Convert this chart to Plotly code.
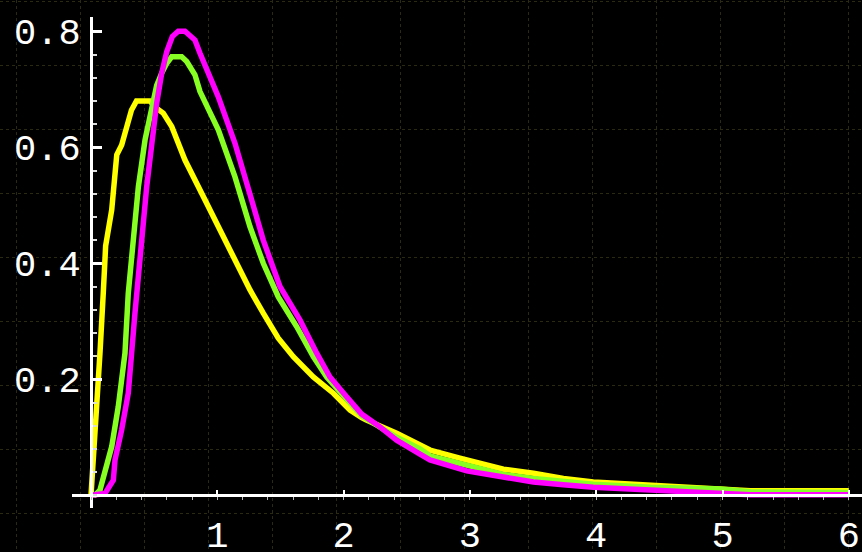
import plotly.graph_objects as go

# ---- data ----
yellow_x = [0.0, 0.045, 0.071, 0.097, 0.116, 0.164, 0.204, 0.243, 0.295, 0.32, 0.36, 0.467, 0.507, 0.572,
            0.639, 0.744, 0.903, 1.061, 1.166, 1.259, 1.364, 1.483, 1.602, 1.76, 1.919, 2.051, 2.143, 2.18,
            2.42, 2.684, 2.92, 3.265, 3.503, 3.74, 3.977, 4.48, 4.98, 5.22, 6.0]
yellow_y = [0.0, 0.135, 0.245, 0.348, 0.43, 0.492, 0.587, 0.604, 0.647, 0.664, 0.68, 0.68, 0.669, 0.659,
            0.636, 0.578, 0.509, 0.44, 0.394, 0.354, 0.314, 0.271, 0.239, 0.204, 0.176, 0.147, 0.134, 0.13,
            0.107, 0.078, 0.064, 0.045, 0.038, 0.029, 0.023, 0.017, 0.013, 0.008, 0.008]

green_x = [0.0, 0.03, 0.071, 0.124, 0.164, 0.216, 0.269, 0.295, 0.322, 0.375, 0.428, 0.48, 0.52, 0.56,
           0.6, 0.639, 0.718, 0.758, 0.823, 0.863, 1.008, 1.14, 1.259, 1.364, 1.483, 1.628, 1.76, 1.866,
           2.143, 2.42, 2.605, 2.684, 2.975, 3.265, 3.503, 3.74, 3.977, 4.43, 4.98, 5.22, 6.0]
green_y = [0.0, 0.0, 0.009, 0.049, 0.084, 0.153, 0.245, 0.348, 0.406, 0.532, 0.613, 0.67, 0.707, 0.728,
           0.745, 0.756, 0.756, 0.748, 0.725, 0.696, 0.63, 0.549, 0.463, 0.40, 0.342, 0.291, 0.239, 0.204,
           0.137, 0.10, 0.08, 0.068, 0.052, 0.036, 0.029, 0.023, 0.019, 0.014, 0.011, 0.006, 0.005]

magenta_x = [0.0, 0.11, 0.177, 0.19, 0.243, 0.295, 0.348, 0.388, 0.441, 0.52, 0.56, 0.6, 0.644, 0.691,
             0.744, 0.823, 0.863, 1.008, 1.14, 1.272, 1.364, 1.496, 1.655, 1.787, 1.892, 2.024, 2.143,
             2.288, 2.42, 2.605, 2.684, 2.975, 3.265, 3.503, 3.74, 3.977, 4.43, 4.98, 5.22, 6.0]
magenta_y = [0.0, 0.003, 0.026, 0.061, 0.113, 0.176, 0.314, 0.406, 0.532, 0.676, 0.728, 0.765, 0.791, 0.8,
             0.8, 0.785, 0.762, 0.687, 0.607, 0.509, 0.44, 0.36, 0.302, 0.245, 0.204, 0.17, 0.14,
             0.118, 0.095, 0.071, 0.061, 0.042, 0.032, 0.023, 0.018, 0.014, 0.009, 0.005, 0.001, 0.001]

x_tick_vals = [1, 2, 3, 4, 5, 6]
x_tick_text = ["1", "2", "3", "4", "5", "6"]
y_tick_vals = [0.2, 0.4, 0.6, 0.8]
y_tick_text = ["0.2", "0.4", "0.6", "0.8"]

W, H = 862, 552

fig = go.Figure()

# background grid subplot (xy)
fig.add_trace(go.Scatter(x=[], y=[], xaxis="x", yaxis="y", showlegend=False, hoverinfo="skip"))

series = [
    (yellow_x, yellow_y, "#FFFF00"),
    (green_x, green_y, "#88FF22"),
    (magenta_x, magenta_y, "#FF00FF"),
]
for xs, ys, col in series:
    fig.add_trace(go.Scatter(x=xs, y=ys, mode="lines", xaxis="x2", yaxis="y2",
                             line=dict(color=col, width=5.5), showlegend=False))

tickfont = dict(family="Liberation Mono", size=37, color="white")

fig.update_layout(
    width=W, height=H,
    margin=dict(l=0, r=0, t=0, b=0, autoexpand=False),
    paper_bgcolor="black",
    plot_bgcolor="rgba(0,0,0,0)",
    showlegend=False,
    xaxis=dict(domain=[0, 1], range=[0, W], tick0=16.7, dtick=64, showgrid=True,
               gridcolor="#2a2a12", gridwidth=1, griddash="dot", zeroline=False,
               showticklabels=False, ticks="", showline=False, fixedrange=True,
               automargin=False),
    yaxis=dict(domain=[0, 1], range=[H, 0], tick0=1.3, dtick=64, showgrid=True,
               gridcolor="#2a2a12", gridwidth=1, griddash="dot", zeroline=False,
               showticklabels=False, ticks="", showline=False, fixedrange=True,
               automargin=False),
    xaxis2=dict(domain=[72 / W, 1], anchor="free", position=(H - 495.3) / H,
                range=[-19 / 126.3, (W - 91) / 126.3],
                showgrid=False, zeroline=False, automargin=False,
                showline=True, linecolor="white", linewidth=3,
                tickmode="array", tickvals=x_tick_vals, ticktext=x_tick_text,
                ticks="inside", ticklen=4, tickwidth=2, tickcolor="white",
                minor=dict(ticks="outside", dtick=0.2, tick0=0, ticklen=3, tickwidth=1,
                           tickcolor="#bbbbbb", showgrid=False),
                tickfont=tickfont, ticklabelstandoff=5),
    yaxis2=dict(domain=[(H - 508) / H, (H - 17) / H], anchor="free", position=91 / W,
                range=[-(508 - 495.3) / 580, (495.3 - 17) / 580],
                showgrid=False, zeroline=False, automargin=False,
                showline=True, linecolor="white", linewidth=3,
                tickmode="array", tickvals=y_tick_vals, ticktext=y_tick_text,
                ticks="inside", ticklen=9, tickwidth=2.5, tickcolor="white",
                minor=dict(ticks="inside", dtick=0.04, tick0=0, ticklen=4, tickwidth=1.5,
                           tickcolor="#dddddd", showgrid=False),
                tickfont=tickfont, ticklabelstandoff=2),
)

fig.write_html("out.html")
